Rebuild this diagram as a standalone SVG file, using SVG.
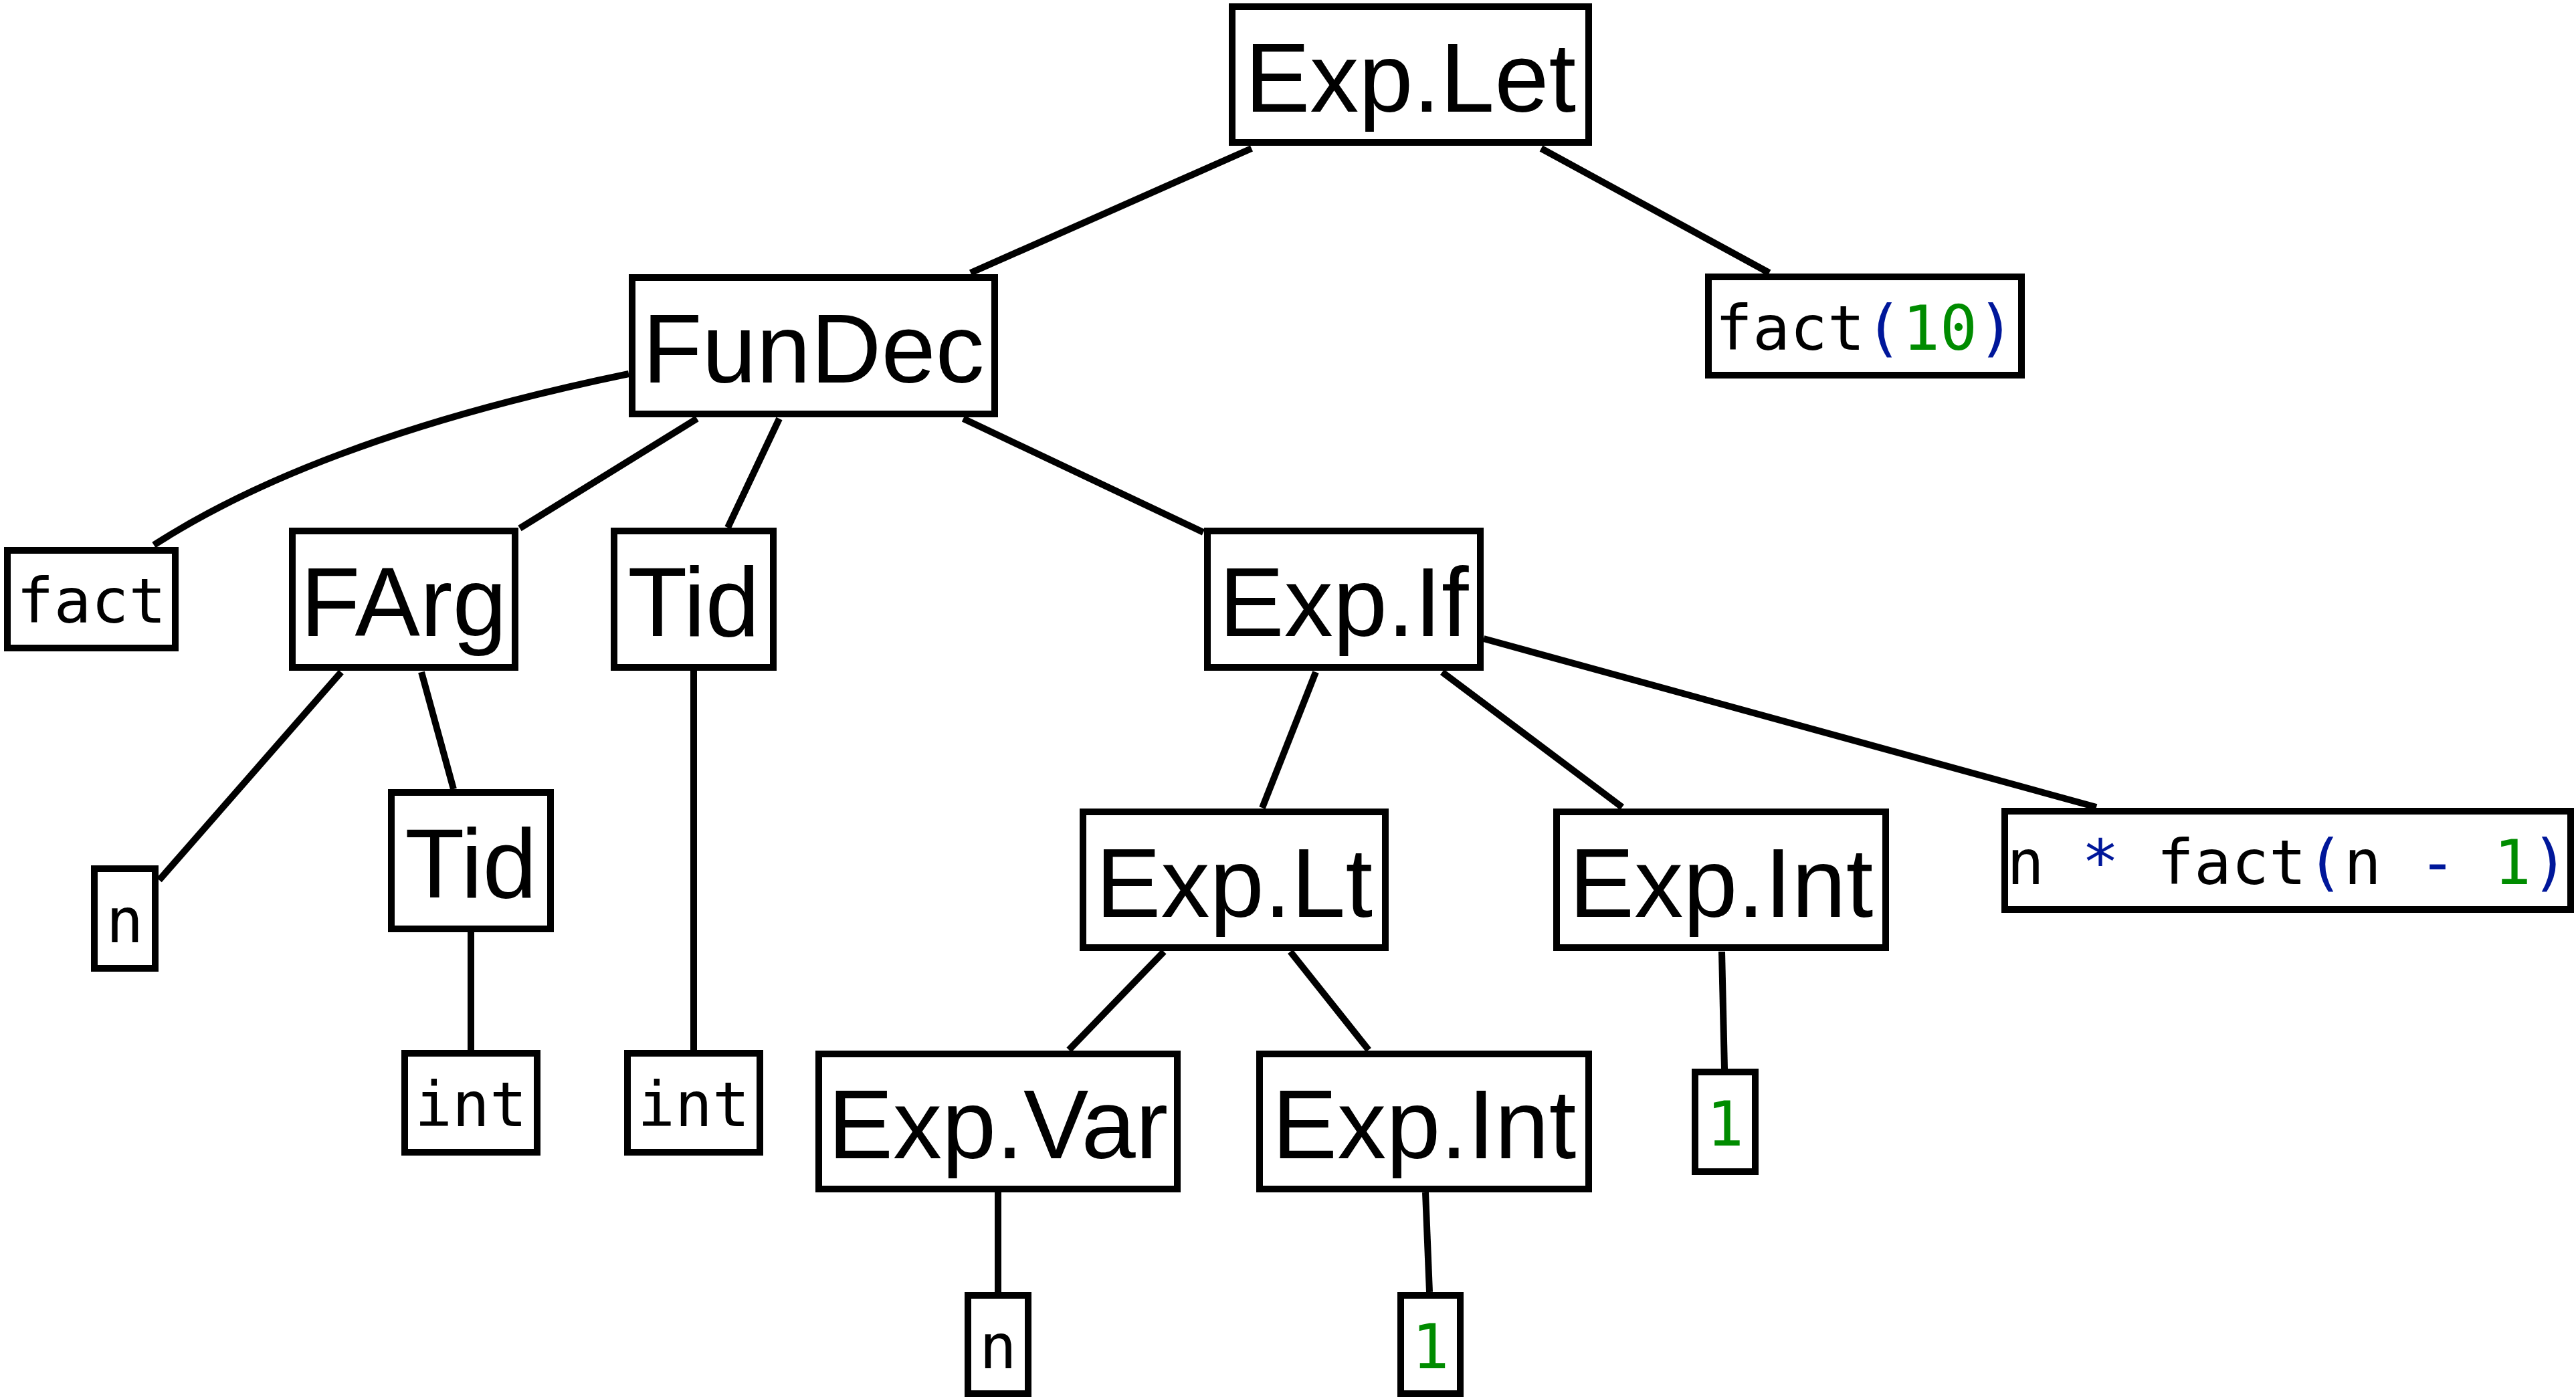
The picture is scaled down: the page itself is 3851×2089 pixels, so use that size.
<svg xmlns="http://www.w3.org/2000/svg" width="3851" height="2089" viewBox="0 0 3851 2089">
<style>
rect.b{fill:#fff;stroke:#000;stroke-width:10}
text.l{font-family:"Liberation Sans",Arial,Helvetica,sans-serif;font-size:146px;fill:#000;text-anchor:middle}
text.m{font-family:"DejaVu Sans Mono","Liberation Mono",monospace;font-size:93px;fill:#000;text-anchor:middle}
.op{fill:#00179a}
.num,text.m.num{fill:#008c00}
#connectors line,#connectors path{stroke:#000;stroke-width:10;fill:none}
</style>
<rect width="3851" height="2089" fill="#fff"/>
<g id="connectors">
<line x1="1871" y1="222" x2="1451" y2="408"/>
<line x1="2304" y1="222" x2="2645" y2="408"/>
<path d="M940,559 Q480,654 230,815"/>
<line x1="1042" y1="626" x2="777" y2="790"/>
<line x1="1165" y1="626" x2="1088" y2="789"/>
<line x1="1440" y1="626" x2="1799" y2="796"/>
<line x1="510" y1="1005" x2="238" y2="1316"/>
<line x1="630" y1="1005" x2="678" y2="1180"/>
<line x1="704" y1="1394" x2="704" y2="1570"/>
<line x1="1037" y1="1003" x2="1037" y2="1570"/>
<line x1="1967" y1="1005" x2="1887" y2="1208"/>
<line x1="2156" y1="1005" x2="2425" y2="1207"/>
<line x1="2218" y1="955" x2="3134" y2="1207"/>
<line x1="1740" y1="1423" x2="1598" y2="1570"/>
<line x1="1929" y1="1423" x2="2046" y2="1570"/>
<line x1="2574" y1="1423" x2="2578" y2="1598"/>
<line x1="1492" y1="1783" x2="1492" y2="1932"/>
<line x1="2131" y1="1783" x2="2137" y2="1932"/>
</g>
<g id="n-explet"><rect class="b" x="1842" y="10" width="533" height="203"/><text class="l" x="2108.5" y="166.5">Exp.Let</text></g>
<g id="n-fact10"><rect class="b" x="2554" y="414" width="468" height="147"/><text class="m" x="2788" y="523">fact<tspan class="op">(</tspan><tspan class="num">10</tspan><tspan class="op">)</tspan></text></g>
<g id="n-fundec"><rect class="b" x="945" y="415" width="542" height="204"/><text class="l" x="1216" y="572">FunDec</text></g>
<g id="n-fact"><rect class="b" x="11" y="823" width="251" height="146"/><text class="m" x="136.5" y="931">fact</text></g>
<g id="n-farg"><rect class="b" x="437" y="794" width="333" height="204"/><text class="l" x="603.5" y="951">FArg</text></g>
<g id="n-tid1"><rect class="b" x="918" y="794" width="238" height="204"/><text class="l" x="1037" y="951">Tid</text></g>
<g id="n-expif"><rect class="b" x="1805" y="794" width="408" height="204"/><text class="l" x="2009" y="951">Exp.If</text></g>
<g id="n-n1"><rect class="b" x="141" y="1299" width="91" height="149"/><text class="m" x="186.5" y="1408.5">n</text></g>
<g id="n-tid2"><rect class="b" x="585" y="1185" width="238" height="204"/><text class="l" x="704" y="1342">Tid</text></g>
<g id="n-int1"><rect class="b" x="605" y="1575" width="198" height="148"/><text class="m" x="704" y="1684">int</text></g>
<g id="n-int2"><rect class="b" x="938" y="1575" width="198" height="148"/><text class="m" x="1037" y="1684">int</text></g>
<g id="n-explt"><rect class="b" x="1619" y="1214" width="452" height="203"/><text class="l" x="1845" y="1370.5">Exp.Lt</text></g>
<g id="n-expint1"><rect class="b" x="2327" y="1214" width="492" height="203"/><text class="l" x="2573" y="1370.5">Exp.Int</text></g>
<g id="n-body"><rect class="b" x="2997" y="1213" width="846" height="147"/><text class="m" x="3420" y="1322">n <tspan class="op">*</tspan> fact<tspan class="op">(</tspan>n <tspan class="op">-</tspan> <tspan class="num">1</tspan><tspan class="op">)</tspan></text></g>
<g id="n-one1"><rect class="b" x="2534" y="1603" width="90" height="149"/><text class="m num" x="2579" y="1713">1</text></g>
<g id="n-expvar"><rect class="b" x="1224" y="1576" width="536" height="202"/><text class="l" x="1492" y="1732">Exp.Var</text></g>
<g id="n-expint2"><rect class="b" x="1883" y="1576" width="492" height="202"/><text class="l" x="2129" y="1732">Exp.Int</text></g>
<g id="n-n2"><rect class="b" x="1447" y="1937" width="90" height="147"/><text class="m" x="1492" y="2046">n</text></g>
<g id="n-one2"><rect class="b" x="2094" y="1937" width="89" height="147"/><text class="m num" x="2138.5" y="2046">1</text></g>
</svg>
